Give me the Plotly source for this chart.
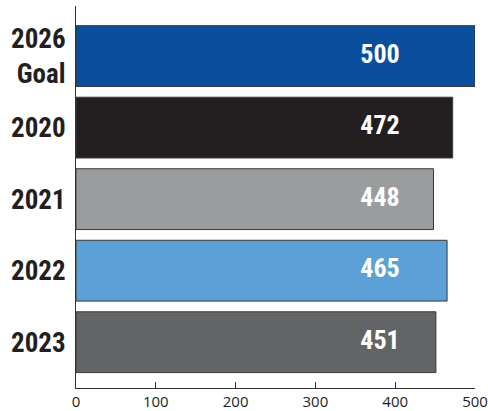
import plotly.graph_objects as go

categories = ["2026<br>Goal", "2020", "2021", "2022", "2023"]
values = [500, 472, 448, 465, 451]
colors = ["#0a4f9e", "#231f20", "#9b9c9e", "#5ba1d6", "#636466"]
x_ticks = [0, 100, 200, 300, 400, 500]

LABEL_X = 381
COND = "Roboto Condensed, Archivo Narrow, sans-serif"
REG = "Open Sans, sans-serif"

fig = go.Figure()
fig.add_trace(go.Bar(
    y=categories, x=values, orientation="h",
    marker=dict(color=colors, line=dict(color="#3a3a3a", width=1)),
    hoverinfo="skip", showlegend=False,
))
fig.add_trace(go.Scatter(
    y=categories, x=[LABEL_X] * len(values), mode="text",
    text=[str(v) for v in values],
    textfont=dict(family=COND, size=26, color="white", weight="bold"),
    hoverinfo="skip", showlegend=False,
))

fig.update_layout(
    width=488, height=411,
    margin=dict(l=76, r=13, t=6, b=23),
    paper_bgcolor="white", plot_bgcolor="white",
    bargap=0.15,
    xaxis=dict(range=[0, 500], tickvals=x_ticks, ticks="inside", ticklen=6,
               tickcolor="#333", showline=True, linecolor="#333", linewidth=1,
               showgrid=False, zeroline=False, automargin=False,
               tickfont=dict(family=REG, size=15, color="#231f20")),
    yaxis=dict(type="category", categoryorder="array", categoryarray=categories,
               range=[4.64, -0.7], showline=True, linecolor="#333", linewidth=1,
               ticks="", showgrid=False, zeroline=False, automargin=False,
               ticklabelstandoff=4,
               tickfont=dict(family=COND, size=27, color="#231f20", weight="bold")),
)

fig.write_html("out.html")
